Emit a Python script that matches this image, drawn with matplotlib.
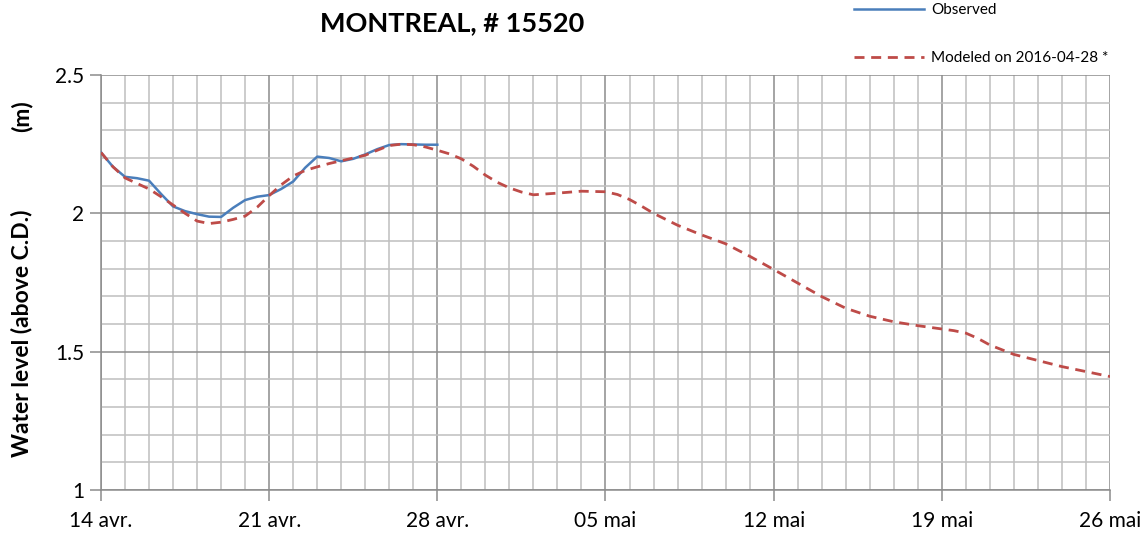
import matplotlib
matplotlib.use("Agg")
import matplotlib.pyplot as plt
import matplotlib.dates as mdates
from matplotlib.ticker import MultipleLocator, FormatStrFormatter
import pandas as pd

plt.rcParams['font.family'] = ['Lato', 'DejaVu Sans']

start = pd.Timestamp("2016-04-14")

# days after 14 avr. 00:00
obs_days = [0, 0.5, 1.0, 1.5, 2.0, 2.5, 3.0, 3.5, 4.0, 4.5, 5.0, 5.5, 6.0, 6.5, 7.0,
            7.5, 8.0, 8.5, 9.0, 9.5, 10.0, 10.5, 11.0, 11.5, 12.0, 12.5, 13.0, 13.5, 14.0]
obs_level = [2.22, 2.168, 2.132, 2.127, 2.118, 2.07, 2.025, 2.008, 1.997, 1.988, 1.987, 2.02,
             2.048, 2.06, 2.066, 2.088, 2.115, 2.165, 2.205, 2.2, 2.188, 2.197, 2.213, 2.232,
             2.247, 2.25, 2.249, 2.248, 2.248]

mod_days = [0, 0.5, 1, 1.5, 2, 2.5, 3, 3.5, 4, 4.5, 5, 5.5, 6, 6.5, 7, 7.5, 8, 8.5, 9, 9.5,
            10, 10.5, 11, 11.5, 12, 12.5, 13, 13.5, 14, 14.5, 15, 15.5, 16, 16.5, 17, 17.5,
            18, 19, 20, 21, 21.5, 22, 22.5, 23, 24, 25, 26, 27, 28, 29, 30, 31, 32, 33, 34,
            35, 35.5, 36, 36.5, 37, 38, 39, 40, 41, 42]
mod_level = [2.22, 2.168, 2.128, 2.108, 2.088, 2.06, 2.03, 2.0, 1.972, 1.963, 1.968, 1.978,
             1.99, 2.022, 2.064, 2.103, 2.135, 2.155, 2.168, 2.18, 2.19, 2.2, 2.21, 2.228,
             2.245, 2.25, 2.248, 2.24, 2.228, 2.215, 2.197, 2.17, 2.138, 2.112, 2.092,
             2.077, 2.067, 2.073, 2.08, 2.078, 2.068, 2.05, 2.026, 2.0, 1.957, 1.922, 1.89,
             1.845, 1.797, 1.748, 1.699, 1.657, 1.628, 1.608, 1.594, 1.582, 1.576, 1.567,
             1.548, 1.524, 1.49, 1.468, 1.446, 1.428, 1.41]

tick_labels = ["14 avr.", "21 avr.", "28 avr.", "05 mai", "12 mai", "19 mai", "26 mai"]
y_ticks = [1, 1.5, 2, 2.5]

obs_t = [start + pd.Timedelta(days=d) for d in obs_days]
mod_t = [start + pd.Timedelta(days=d) for d in mod_days]

fig = plt.figure(figsize=(11.48, 5.41), dpi=100)
ax = fig.add_axes([101 / 1148, 1 - 490 / 541, 1009 / 1148, 415 / 541])

ax.plot(obs_t, obs_level, color="#4a7ebb", lw=1.8, label="Observed", zorder=3,
        solid_joinstyle="round")
ax.plot(mod_t, mod_level, color="#be4b48", lw=2.0, dashes=(3.6, 2.4),
        label="Modeled on 2016-04-28 *", zorder=3)

x0 = mdates.date2num(start)
ax.set_xlim(x0, x0 + 42)
ax.set_ylim(1, 2.5)

ax.set_xticks([x0 + 7 * i for i in range(len(tick_labels))])
ax.set_xticklabels(tick_labels)
ax.xaxis.set_minor_locator(MultipleLocator(1))
ax.set_yticks(y_ticks)
ax.yaxis.set_major_formatter(FormatStrFormatter("%g"))
ax.yaxis.set_minor_locator(MultipleLocator(0.1))

ax.grid(which="minor", color="#bfbfbf", lw=1.1)
ax.grid(which="major", color="#8c8c8c", lw=1.1)
ax.set_axisbelow(True)

for s in ["top", "right"]:
    ax.spines[s].set_visible(False)
for s in ["left", "bottom"]:
    ax.spines[s].set_color("#8c8c8c")
    ax.spines[s].set_linewidth(1.1)

ax.tick_params(axis="x", which="major", length=8, color="#8c8c8c", width=1.1,
               labelsize=15, labelcolor="#000000", pad=7)
ax.tick_params(axis="y", which="major", length=8, color="#8c8c8c", width=1.1,
               labelsize=15, labelcolor="#000000", pad=4)
ax.tick_params(which="minor", length=0)

fig.text(452 / 1148, 1 - 23 / 541, "MONTREAL, # 15520", ha="center", va="center",
         fontsize=19.5, fontweight="bold")
fig.text(22 / 1148, 1 - 333 / 541, "Water level (above C.D.)", rotation=90, ha="center",
         va="center", fontsize=16.5, fontweight="bold")
fig.text(22 / 1148, 1 - 116 / 541, "(m)", rotation=90, ha="center", va="center",
         fontsize=16.5, fontweight="bold")

fig.legend(loc="upper left", bbox_to_anchor=(840 / 1148, 1.02), frameon=False,
           fontsize=11, handlelength=4.6, labelspacing=2.25, handletextpad=0.45)

fig.savefig("out.png", dpi=100)
